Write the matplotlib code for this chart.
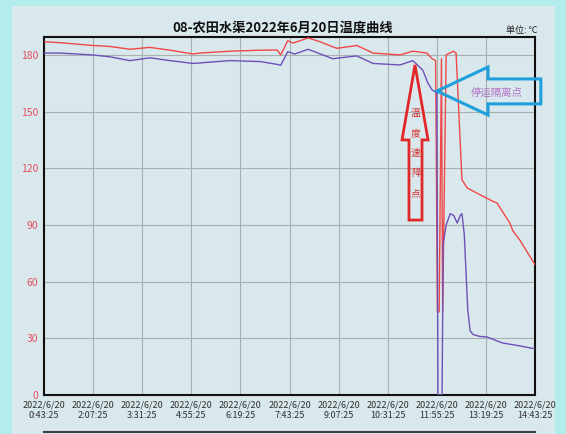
import matplotlib
matplotlib.use('Agg')
import matplotlib.pyplot as plt
from matplotlib.patches import Polygon, Rectangle
from matplotlib.lines import Line2D

plt.rcParams['font.family'] = ['Noto Sans CJK SC', 'DejaVu Sans']

# 时间: 距 0:43:25 的分钟数
tick_min = [0, 84, 168, 252, 336, 420, 504, 588, 672, 756, 840]
tick_labels = ['2022/6/20\n0:43:25', '2022/6/20\n2:07:25', '2022/6/20\n3:31:25',
               '2022/6/20\n4:55:25', '2022/6/20\n6:19:25', '2022/6/20\n7:43:25',
               '2022/6/20\n9:07:25', '2022/6/20\n10:31:25', '2022/6/20\n11:55:25',
               '2022/6/20\n13:19:25', '2022/6/20\n14:43:25']
y_ticks = [0, 30, 60, 90, 120, 150, 180]

# 红线
red_t = [0, 27, 84, 113, 147, 181, 216, 255, 267, 318, 370, 399, 405, 417, 426, 452,
         472, 501, 535, 563, 609, 631, 655, 664, 670, 673, 676, 680, 682, 688, 700,
         705, 715, 724, 746, 768, 775, 797, 802, 814, 840]
red_v = [187, 186.5, 185, 184.5, 183, 184, 182.5, 180.5, 181, 182, 182.5, 182.6, 180,
         187.5, 186.3, 189, 187, 183.5, 185, 181, 180, 182, 181, 178, 177, 44, 44,
         178, 44, 180, 182, 181, 114, 109.6, 106, 102.5, 101.6, 91, 87, 82, 69]

# 紫线
pur_t = [0, 27, 84, 113, 147, 181, 216, 255, 318, 370, 399, 405, 417, 429, 452, 494,
         535, 563, 609, 631, 648, 657, 664, 672, 674, 681, 683, 688, 695, 701, 707,
         712, 715, 719, 725, 729, 734, 746, 758, 772, 785, 814, 840]
pur_v = [181, 181, 180, 179, 177, 178.5, 177, 175.5, 177, 176.5, 175, 174.5, 181.7,
         180.5, 183, 178, 179.5, 175.5, 174.7, 177, 172, 165, 161.5, 160, 0, 0, 80,
         90, 96, 95, 91, 95, 96, 85, 45, 34, 32, 31, 30.7, 29, 27.5, 26, 24.4]

fig = plt.figure(figsize=(5.66, 4.34), dpi=100, facecolor='#b4ecec')
fig.add_artist(Rectangle((12 / 566, 0), 543 / 566, 428 / 434, transform=fig.transFigure,
                         facecolor='#d9e8ec', edgecolor='none', zorder=0))
ax = fig.add_axes([44 / 566, 39 / 434, 491 / 566, 358 / 434])
ax.set_facecolor('#d9e8ec')

ax.plot(red_t, red_v, color='#f04848', lw=1.0, zorder=3)
ax.plot(pur_t, pur_v, color='#6e50b8', lw=1.0, zorder=3)

ax.set_xlim(0, 840)
ax.set_ylim(0, 189.5)
ax.set_xticks(tick_min)
ax.set_xticklabels(tick_labels, fontsize=6.5, color='#303030')
ax.set_yticks(y_ticks)
ax.set_yticklabels([str(v) for v in y_ticks], fontsize=7.5, color='#e85060')
ax.tick_params(length=0, pad=4)
ax.grid(True, color='#a8b0b0', lw=0.8)
for s in ax.spines.values():
    s.set_color('#101010')
    s.set_linewidth(1.5)

fig.text(283 / 566, 1 - 27 / 434, '08-农田水渠2022年6月20日温度曲线', ha='center', va='center',
         fontsize=9.5, fontweight='bold', color='#101010')
fig.text(537 / 566, 1 - 30 / 434, '单位: ℃', ha='right', va='center', fontsize=6.5,
         color='#202020')

# 红色箭头: 温度速降点
tip_t, tip_v = 634.7, 174.7
red_arrow = [(tip_t, tip_v), (657, 135), (646.7, 135), (646.7, 92.6), (624.4, 92.6),
             (624.4, 135), (612.5, 135)]
ax.add_patch(Polygon(red_arrow, closed=True, fill=False, edgecolor='#e02828', lw=2, zorder=4))
for i, ch in enumerate('温度速降点'):
    ax.text(636, 149.3 - i * 10.6, ch, ha='center', va='center', fontsize=7,
            color='#d83030', zorder=5)

# 蓝色箭头: 停运隔离点
blue_arrow = [(672.3, 160.9), (759.6, 173.6), (759.6, 167.3), (850, 167.3), (850, 154.1),
              (759.6, 154.1), (759.6, 148.2)]
ax.add_patch(Polygon(blue_arrow, closed=True, fill=False, edgecolor='#1fa0dc', lw=2.2,
                     zorder=4, clip_on=False))
ax.text(775, 159.9, '停运隔离点', ha='center', va='center', fontsize=7.5, color='#b070c8',
        zorder=5)

fig.add_artist(Line2D([44 / 566, 535 / 566], [2 / 434, 2 / 434], color='#404040', lw=1.5))

fig.savefig('out.png', dpi=100, facecolor=fig.get_facecolor())
